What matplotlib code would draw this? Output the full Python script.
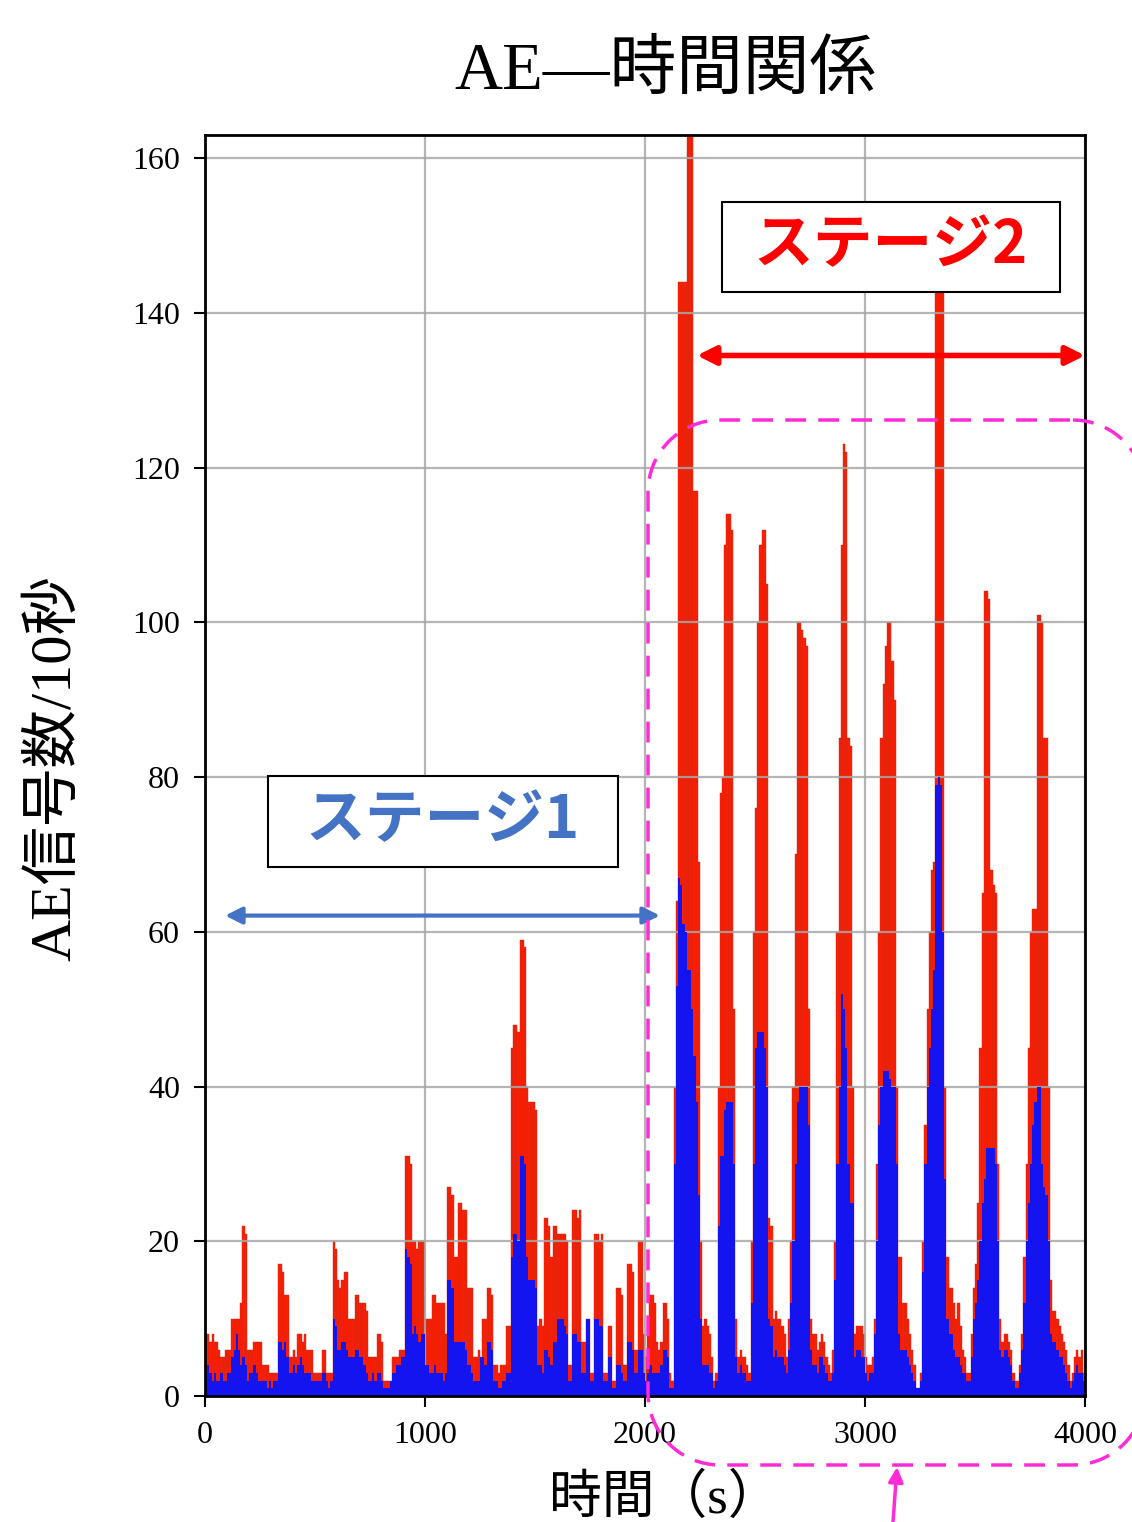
import numpy as np
import matplotlib
matplotlib.use('Agg')
import matplotlib.pyplot as plt
from matplotlib.patches import Rectangle, PathPatch, FancyArrowPatch
from matplotlib.path import Path

plt.rcParams['font.family'] = ['Liberation Serif', 'Noto Sans CJK JP']

# AE signal counts per 10 s bin (red = all, blue = subset)
bin_width = 10
red_stage1 = [
    8, 8, 7, 8, 7, 7, 6, 5, 5, 6,
    6, 6, 10, 10, 10, 10, 12, 22, 21, 6,
    6, 6, 7, 7, 7, 7, 4, 4, 4, 3,
    3, 3, 3, 17, 17, 16, 13, 13, 5, 5,
    6, 5, 8, 8, 7, 8, 6, 6, 6, 3,
    3, 3, 3, 6, 6, 3, 3, 3, 20, 19,
    15, 14, 15, 16, 16, 10, 10, 10, 13, 13,
    12, 12, 12, 11, 5, 5, 5, 5, 8, 8,
    7, 2, 2, 2, 2, 5, 5, 5, 6, 6,
    6, 31, 31, 30, 20, 20, 19, 20, 20, 20,
    10, 10, 10, 13, 13, 12, 12, 12, 12, 8,
    27, 27, 26, 18, 18, 25, 25, 24, 24, 14,
    14, 14, 5, 5, 6, 5, 10, 10, 14, 14,
    13, 4, 4, 3, 4, 4, 4, 9, 9, 45,
    48, 48, 47, 59, 59, 58, 40, 38, 38, 38,
    37, 9, 10, 9, 23, 23, 22, 18, 22, 22,
    21, 21, 21, 21, 20, 4, 4, 24, 24, 23,
    24, 7, 7, 10, 10, 3, 3, 21, 21, 20,
    21, 3, 3, 9, 9, 2, 2, 14, 14, 13,
    4, 4, 17, 17, 16, 6, 6, 20, 20, 8,
]
red_stage2 = [
    5, 8, 13, 13, 12, 7, 6, 7, 12, 12, 10, 3, 2,
    40, 64, 144, 144, 144, 144, 165, 165, 165, 117, 117, 69, 20,
    9, 10, 9, 8, 5, 2, 3,
    40, 78, 80, 110, 114, 114, 112, 50, 10,
    5, 6, 5, 5, 4, 3,
    20, 60, 76, 100, 110, 112, 112, 105, 23, 22,
    10, 11, 10, 10, 9, 8, 5,
    10, 20, 40, 70, 100, 100, 99, 98, 97, 50, 10,
    8, 8, 6, 7, 8, 7, 5, 4, 3, 6,
    20, 60, 85, 110, 123, 122, 85, 84, 40,
    8, 9, 9, 9, 8, 5, 4, 4, 5,
    10, 30, 60, 85, 92, 97, 100, 100, 95, 90, 40, 18, 18,
    12, 12, 10, 8, 6, 4, 1, 1,
    3, 20, 35, 50, 60, 68, 69, 143, 143, 143, 143, 40, 18,
    14, 14, 12, 10, 12, 9, 6, 5, 3, 3,
    8, 14, 17, 25, 45, 65, 104, 104, 103, 68, 66, 65, 30, 10,
    7, 8, 8, 7, 6, 3, 2,
    2, 4, 8, 18, 30, 45, 60, 63, 63, 101, 101, 100, 85, 85, 40, 15,
    11, 11, 10, 9, 8, 7, 6, 4, 2, 3, 5, 6, 5, 6, 3,
]
blue_stage1 = [
    3, 4, 3, 2, 3, 2, 2, 3, 2, 2,
    3, 3, 5, 6, 8, 6, 4, 5, 4, 2,
    3, 3, 4, 3, 2, 2, 2, 2, 1, 2,
    1, 2, 2, 7, 7, 6, 7, 5, 3, 3,
    4, 3, 4, 5, 4, 3, 3, 3, 2, 2,
    2, 2, 2, 3, 3, 2, 1, 2, 10, 9,
    6, 6, 7, 7, 6, 5, 5, 5, 6, 6,
    5, 5, 4, 3, 2, 2, 3, 2, 3, 3,
    2, 1, 1, 1, 2, 3, 3, 4, 4, 5,
    5, 19, 18, 17, 8, 9, 8, 7, 8, 8,
    4, 4, 3, 3, 4, 3, 3, 3, 2, 3,
    15, 15, 14, 7, 7, 7, 7, 7, 6, 4,
    4, 3, 2, 2, 2, 5, 5, 4, 7, 7,
    6, 2, 2, 1, 1, 2, 2, 3, 3, 18,
    21, 21, 20, 31, 31, 30, 18, 15, 15, 15,
    14, 4, 4, 3, 6, 6, 5, 4, 7, 7,
    10, 10, 10, 9, 8, 2, 2, 8, 8, 7,
    7, 3, 3, 10, 10, 2, 2, 10, 10, 9,
    9, 2, 2, 5, 5, 1, 1, 4, 4, 3,
    2, 2, 7, 7, 6, 3, 3, 6, 6, 3,
]
blue_stage2 = [
    2, 3, 4, 3, 3, 3, 3, 4, 6, 6, 5, 1, 1,
    30, 53, 67, 66, 61, 60, 55, 55, 50, 44, 38, 26, 10,
    4, 4, 4, 3, 3, 1, 2,
    22, 31, 31, 37, 38, 38, 38, 30, 5,
    3, 4, 3, 3, 2, 2,
    12, 30, 45, 47, 47, 47, 45, 40, 10, 9,
    5, 6, 5, 5, 5, 4, 3,
    6, 12, 20, 30, 38, 40, 40, 40, 40, 35, 6,
    4, 4, 3, 5, 5, 4, 3, 2, 2, 3,
    15, 30, 40, 52, 50, 45, 30, 25, 25,
    5, 6, 6, 5, 5, 3, 2, 3, 3,
    8, 20, 35, 40, 42, 42, 42, 41, 40, 40, 30, 8, 6,
    6, 6, 5, 4, 3, 2, 1, 1,
    2, 16, 30, 40, 45, 50, 55, 79, 80, 79, 60, 28, 10,
    8, 8, 6, 5, 5, 4, 3, 3, 2, 2,
    5, 10, 12, 15, 20, 25, 28, 32, 32, 32, 32, 30, 20, 6,
    5, 6, 6, 5, 4, 2, 1,
    1, 3, 6, 12, 20, 25, 30, 35, 38, 40, 40, 30, 27, 26, 20, 8,
    7, 7, 6, 5, 5, 4, 3, 2, 1, 2, 3, 4, 3, 3, 2,
]

red_counts = np.array(red_stage1 + red_stage2)
blue_counts = np.array(blue_stage1 + blue_stage2)
bins = np.arange(0, len(red_counts) * bin_width, bin_width)

W, H = 1132, 1522
fig = plt.figure(figsize=(W / 100, H / 100), dpi=100)
ax = fig.add_axes([0.1811, 0.0828, 0.7774, 0.8285])

ax.bar(bins, red_counts, width=bin_width, align='edge', color='#ff1e00',
       edgecolor='#c8281a', linewidth=0.3, zorder=2)
ax.bar(bins, blue_counts, width=bin_width, align='edge', color='#1414f0',
       linewidth=0, zorder=3)

ax.set_xlim(0, 4000)
ax.set_ylim(0, 163)
ax.set_xticks([0, 1000, 2000, 3000, 4000])
ax.set_yticks(range(0, 161, 20))
ax.grid(True, color='#a8a8a8', linewidth=1.6, alpha=0.85, zorder=4)
ax.set_axisbelow(False)
ax.tick_params(labelsize=23, length=8, width=1.5, pad=10)
for s in ax.spines.values():
    s.set_linewidth(2)
    s.set_zorder(6)

# text labels
fig.text(0.5875, 0.9527, 'AE—時間関係', fontsize=48, ha='center', va='center')
fig.text(0.0486, 0.4954, 'AE信号数/10秒', fontsize=42, rotation=90,
         ha='center', va='center')
fig.text(0.5875, 0.0150, '時間（s）', fontsize=38, ha='center', va='center')

# stage boxes
stage_font = ['Noto Sans CJK JP']
ax.add_patch(Rectangle((286, 68.4), 1591, 11.8, facecolor='white',
                       edgecolor='black', linewidth=1.5, zorder=7))
ax.text(1082, 74.3, 'ステージ1', color='#4472c4', fontsize=43, weight='bold',
        family=stage_font, ha='center', va='center', zorder=8)
ax.add_patch(Rectangle((2350, 142.7), 1536, 11.7, facecolor='white',
                       edgecolor='black', linewidth=1.5, zorder=7))
ax.text(3118, 148.6, 'ステージ2', color='#ff0000', fontsize=43, weight='bold',
        family=stage_font, ha='center', va='center', zorder=8)

# stage ranges
ax.annotate('', xy=(91, 62.1), xytext=(2068, 62.1),
            arrowprops=dict(arrowstyle='<|-|>', color='#4472c4', lw=3,
                            mutation_scale=25, shrinkA=0, shrinkB=0), zorder=8)
ax.annotate('', xy=(2236, 134.5), xytext=(4000, 134.5),
            arrowprops=dict(arrowstyle='<|-|>', color='#ff0000', lw=4,
                            mutation_scale=28, shrinkA=0, shrinkB=0), zorder=8)

# magenta dashed region (pixel coords, top-left origin)
left, right, top, bottom, rad = 648, 1145, 420, 1465, 72
corners = [(right - rad, top + rad, 90, 0), (right - rad, bottom - rad, 0, -90),
           (left + rad, bottom - rad, -90, -180), (left + rad, top + rad, 180, 90)]
pts = []
for cx, cy, a0, a1 in corners:
    ang = np.radians(np.linspace(a0, a1, 20))
    pts += [(cx + rad * np.cos(a), cy - rad * np.sin(a)) for a in ang]
pts.append(pts[0])
pts = [(x / W, 1 - y / H) for x, y in pts]
fig.add_artist(PathPatch(Path(pts), transform=fig.transFigure, facecolor='none',
                         edgecolor='#ff2bd6', linewidth=2.5,
                         linestyle=(0, (6, 3.5)), zorder=9, clip_on=False))
fig.add_artist(FancyArrowPatch(
    (893 / W, 0.0), (897 / W, 1 - 1467 / H), transform=fig.transFigure,
    arrowstyle='-|>', mutation_scale=22, color='#ff2bd6', lw=2.5,
    shrinkA=0, shrinkB=0, zorder=9))

fig.savefig('out.png', dpi=100)
